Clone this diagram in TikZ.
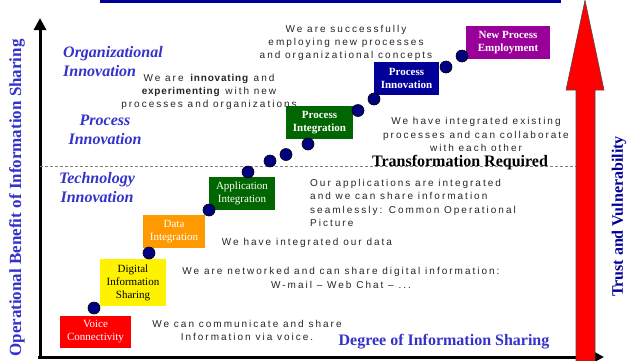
\documentclass[tikz,border=0pt]{standalone}
\usepackage{fontspec}
\setmainfont{Liberation Serif}
\newfontfamily\bodyfont[LetterSpace=20, BoldFeatures={LetterSpace=8}]{Liberation Sans}
\usetikzlibrary{arrows.meta}
\definecolor{lblue}{HTML}{3333CC}
\definecolor{navy}{HTML}{000099}
\definecolor{dotblue}{HTML}{000080}
\definecolor{stgreen}{HTML}{006600}
\definecolor{storange}{HTML}{FF9900}
\definecolor{stpurple}{HTML}{990099}
\tikzset{
  lbl/.style={font=\fontsize{16}{19}\selectfont\bfseries\itshape, text=lblue, inner sep=0pt},
  body/.style={font=\bodyfont\fontsize{10}{13.3}\selectfont, text=black!85, align=center, inner sep=0pt},
  stage/.style={minimum width=#1, minimum height=33pt, inner sep=0pt, align=center,
    font=\fontsize{11}{13}\selectfont},
  dot/.style={circle, fill=dotblue, draw=black, line width=0.6pt, minimum size=12pt, inner sep=0pt},
  axis/.style={line width=3pt, -{Triangle[width=12pt,length=12pt]}},
  title/.style={font=\fontsize{16}{19}\selectfont\bfseries, inner sep=0pt},
}
\begin{document}
\begin{tikzpicture}[x=1pt,y=-1pt]
\useasboundingbox (0,0) rectangle (632,360);
\fill[white] (0,0) rectangle (632,360);

% banner strip along the top
\fill[navy] (100,0) rectangle (561,3.3);

% axes
\coordinate (origin) at (40,358);
\coordinate (ytop) at (40,18);
\coordinate (xo) at (38,357);
\coordinate (xend) at (604,357);
\draw[axis] (origin) -- (ytop);
\draw[axis] (xo) -- (xend);

% threshold line
\draw[gray, line width=0.6pt, dash pattern=on 3pt off 2pt] (40,166) -- (578,166);
\node[title, anchor=base] (transf) at (460,166) {Transformation Required};

% axis titles
\node[title, text=lblue, rotate=90, font=\fontsize{17}{19}\selectfont\bfseries] (ytitle) at (17,198) {Operational Benefit of Information Sharing};
\node[title, text=navy, rotate=90] (rtitle) at (619,216.5) {Trust and Vulnerability};
\node[title, text=lblue] (xtitle) at (444,342) {Degree of Information Sharing};

% big trust arrow
\filldraw[fill=red, draw=black!70, line width=0.6pt]
  (576,361) -- (576,90) -- (566,90) -- (585,0.3) -- (604,90) -- (595,90) -- (595,361) -- cycle;

% band labels
\node[lbl, anchor=west, align=left] (orglbl) at (63,61.5) {Organizational\\Innovation};
\node[lbl, align=center] (proclbl) at (105,130) {Process\\Innovation};
\node[lbl, align=center] (techlbl) at (97,187.5) {Technology\\Innovation};

% descriptions
\node[body] (t1) at (346,43) {We are successfully\\employing new processes\\and organizational concepts};
\node[body] (t2) at (209,92) {We are \textbf{innovating} and\\\textbf{experimenting} with new\\processes and organizations};
\node[body] (t3) at (476,134.5) {We have integrated existing\\processes and can collaborate\\with each other};
\node[body, align=left, anchor=west] (t4) at (310,203) {Our applications are integrated\\and we can share information\\seamlessly: Common Operational\\Picture};
\node[body] (t5) at (307,243) {We have integrated our data};
\node[body] (t6) at (341,278) {We are networked and can share digital information:\\W-mail – Web Chat – ...};
\node[body] (t7) at (247,330.5) {We can communicate and share\\Information via voice.};

% stages
\node[stage=71pt, minimum height=32pt, fill=red, text=white] (s1) at (95.5,332) {Voice\\Connectivity};
\node[stage=66pt, minimum height=47pt, fill=yellow, text=black] (s2) at (133,282.5) {Digital\\Information\\Sharing};
\node[stage=62pt, fill=storange, text=white] (s3) at (174,231.5) {Data\\Integration};
\node[stage=66pt, fill=stgreen, text=white] (s4) at (242,193.5) {Application\\Integration};
\node[stage=67pt, fill=stgreen, text=white, font=\fontsize{11}{13}\selectfont\bfseries] (s5) at (319.5,122.5) {Process\\Integration};
\node[stage=65pt, fill=navy, text=white, font=\fontsize{11}{13}\selectfont\bfseries] (s6) at (406.5,78.5) {Process\\Innovation};
\node[stage=84pt, fill=stpurple, text=white, font=\fontsize{11}{13}\selectfont\bfseries] (s7) at (508,42.5) {New Process\\Employment};

% stepping stones
\node[dot] (d1) at (94,308) {};
\node[dot] (d2) at (149,253) {};
\node[dot] (d3) at (209,210) {};
\node[dot] (d4) at (248,172) {};
\node[dot] (d5) at (270,161) {};
\node[dot] (d6) at (286,154.5) {};
\node[dot] (d7) at (308,144) {};
\node[dot] (d8) at (358,110.5) {};
\node[dot] (d9) at (374,99) {};
\node[dot] (d10) at (446,67) {};
\node[dot] (d11) at (462,56) {};
\end{tikzpicture}
\end{document}
